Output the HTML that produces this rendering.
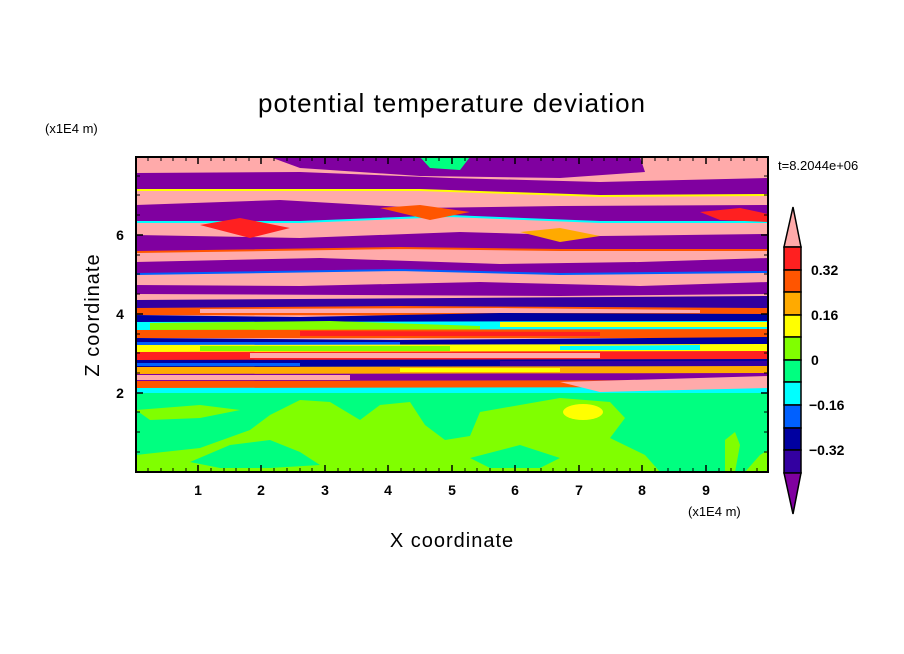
<!DOCTYPE html>
<html><head><meta charset="utf-8"><style>
html,body{margin:0;padding:0;background:#fff;width:904px;height:654px;overflow:hidden}
svg{display:block}
text{font-family:"Liberation Sans",sans-serif;fill:#000}
</style></head><body>
<svg width="904" height="654" viewBox="0 0 904 654" xmlns="http://www.w3.org/2000/svg">
<defs><clipPath id="c"><rect x="136" y="157" width="632" height="315"/></clipPath></defs>
<g clip-path="url(#c)">
<rect x="136" y="157" width="632" height="315" fill="#ffaaaa"/>
<path d="M270,157 L640,157 L645,172 L560,178 L420,176 L300,168Z" fill="#8000a0"/>
<path d="M420,157 L470,157 L460,170 L430,168Z" fill="#00ff80"/>
<path d="M136,173 L300,172 L450,178 L600,182 L768,178 L768,195 L600,196 L420,190 L300,190 L136,190Z" fill="#8000a0"/>
<path d="M136,205 L280,200 L420,208 L560,206 L768,205 L768,222 L600,222 L450,216 L300,222 L136,222Z" fill="#8000a0"/>
<path d="M136,235 L300,238 L460,232 L600,236 L768,234 L768,250 L560,250 L400,248 L136,252Z" fill="#8000a0"/>
<path d="M136,262 L320,258 L500,264 L640,262 L768,258 L768,272 L560,274 L400,270 L136,274Z" fill="#8000a0"/>
<path d="M136,285 L300,286 L480,282 L640,286 L768,282 L768,294 L560,296 L136,294Z" fill="#8000a0"/>
<g fill="none" stroke-width="2">
<path d="M136,190 L300,190 L420,190 L600,196 L768,195" stroke="#ffff00"/>
<path d="M136,222 L300,222 L450,216 L600,222 L768,222" stroke="#00ffff"/>
<path d="M136,252 L400,248 L560,250 L768,250" stroke="#ff5500"/>
<path d="M136,274 L400,270 L560,274 L768,272" stroke="#0060ff"/>
</g>
<path d="M200,225 L240,218 L290,228 L250,238Z" fill="#ff2020"/>
<path d="M380,208 L420,205 L470,212 L430,220Z" fill="#ff5500"/>
<path d="M520,232 L560,228 L600,236 L560,242Z" fill="#ffaa00"/>
<path d="M700,212 L740,208 L768,214 L768,222 L720,220Z" fill="#ff2020"/>
<path d="M136,300 L768,296 L768,308 L136,308Z" fill="#3300a0"/>
<path d="M136,308 L400,306 L768,308 L768,316 L136,315Z" fill="#ff5500"/>
<path d="M200,309 L500,308 L700,310 L700,313 L200,313Z" fill="#ffaaaa"/>
<path d="M136,315 L300,317 L500,313 L768,314 L768,322 L136,322Z" fill="#0000a0"/>
<path d="M136,322 L768,321 L768,330 L136,330Z" fill="#00ffff"/>
<path d="M150,323 L330,321 L480,326 L480,330 L150,330Z" fill="#80ff00"/>
<path d="M500,322 L768,322 L768,327 L500,327Z" fill="#ffff00"/>
<path d="M136,330 L768,329 L768,338 L136,338Z" fill="#ff5500"/>
<path d="M300,331 L600,332 L600,336 L300,336Z" fill="#ff2020"/>
<path d="M136,338 L400,340 L768,337 L768,345 L136,345Z" fill="#0000a0"/>
<path d="M136,342 L400,342 L400,345 L136,345Z" fill="#0060ff"/>
<path d="M136,345 L768,344 L768,352 L136,352Z" fill="#ffff00"/>
<path d="M200,346 L450,346 L450,351 L200,351Z" fill="#80ff00"/>
<path d="M560,346 L700,345 L700,350 L560,350Z" fill="#00ffff"/>
<path d="M136,352 L768,351 L768,360 L136,360Z" fill="#ff2020"/>
<path d="M250,353 L600,353 L600,358 L250,358Z" fill="#ffaaaa"/>
<path d="M136,360 L768,359 L768,367 L136,367Z" fill="#0000a0"/>
<path d="M500,361 L768,361 L768,366 L500,366Z" fill="#3300a0"/>
<path d="M136,363 L300,363 L300,366 L136,366Z" fill="#0060ff"/>
<path d="M136,367 L768,366 L768,374 L136,374Z" fill="#ffaa00"/>
<path d="M400,368 L560,368 L560,372 L400,372Z" fill="#ffff00"/>
<path d="M136,374 L768,373 L768,381 L136,381Z" fill="#8000a0"/>
<path d="M136,375 L350,375 L350,380 L136,380Z" fill="#ffaaaa"/>
<path d="M136,381 L768,380 L768,388 L136,388Z" fill="#ff5500"/>
<path d="M136,388 L768,387 L768,393 L136,393Z" fill="#00ffff"/>
<path d="M560,382 L768,376 L768,388 L600,392Z" fill="#ffaaaa"/>
<rect x="136" y="393" width="632" height="79" fill="#00ff80"/>
<path d="M136,472 L136,455 L200,448 L250,430 L270,415 L300,400 L330,402 L360,420 L380,405 L410,402 L425,425 L445,440 L470,436 L480,412 L520,405 L560,398 L610,402 L625,418 L610,438 L645,455 L660,472Z" fill="#80ff00"/>
<path d="M136,410 L200,405 L240,410 L200,418 L150,420Z" fill="#80ff00"/>
<path d="M190,462 L230,445 L270,440 L300,452 L320,465 L270,468 L220,468Z" fill="#00ff80"/>
<path d="M470,458 L520,445 L560,458 L540,468 L490,468Z" fill="#00ff80"/>
<ellipse cx="583" cy="412" rx="20" ry="8" fill="#ffff00"/>
<path d="M725,440 L735,432 L740,445 L735,472 L725,472Z" fill="#80ff00"/>
<path d="M745,472 L760,455 L768,450 L768,472Z" fill="#80ff00"/>
</g>
<rect x="136" y="157" width="632" height="315" fill="none" stroke="#000" stroke-width="2"/>
<g stroke="#000" stroke-width="1.5">
<path d="M198,472v-7M261,472v-7M325,472v-7M388,472v-7M452,472v-7M515,472v-7M579,472v-7M642,472v-7M706,472v-7M198,157v7M261,157v7M325,157v7M388,157v7M452,157v7M515,157v7M579,157v7M642,157v7M706,157v7"/>
<path d="M136,393h7M136,314h7M136,235h7M768,393h-7M768,314h-7M768,235h-7"/>
</g>
<g stroke="#000" stroke-width="1">
<path d="M148,472v-4M161,472v-4M173,472v-4M186,472v-4M211,472v-4M224,472v-4M236,472v-4M249,472v-4M274,472v-4M287,472v-4M300,472v-4M312,472v-4M338,472v-4M350,472v-4M363,472v-4M376,472v-4M401,472v-4M414,472v-4M426,472v-4M439,472v-4M465,472v-4M477,472v-4M490,472v-4M503,472v-4M528,472v-4M541,472v-4M553,472v-4M566,472v-4M592,472v-4M604,472v-4M617,472v-4M630,472v-4M655,472v-4M668,472v-4M680,472v-4M693,472v-4M719,472v-4M731,472v-4M744,472v-4M757,472v-4"/>
<path d="M148,157v4M161,157v4M173,157v4M186,157v4M211,157v4M224,157v4M236,157v4M249,157v4M274,157v4M287,157v4M300,157v4M312,157v4M338,157v4M350,157v4M363,157v4M376,157v4M401,157v4M414,157v4M426,157v4M439,157v4M465,157v4M477,157v4M490,157v4M503,157v4M528,157v4M541,157v4M553,157v4M566,157v4M592,157v4M604,157v4M617,157v4M630,157v4M655,157v4M668,157v4M680,157v4M693,157v4M719,157v4M731,157v4M744,157v4M757,157v4"/>
<path d="M136,452h4M136,432h4M136,412h4M136,373h4M136,353h4M136,334h4M136,294h4M136,274h4M136,255h4M136,215h4M136,195h4M136,176h4M768,452h-4M768,432h-4M768,412h-4M768,373h-4M768,353h-4M768,334h-4M768,294h-4M768,274h-4M768,255h-4M768,215h-4M768,195h-4M768,176h-4"/>
</g>
<g font-size="14" font-weight="bold" text-anchor="middle">
<text x="198" y="495">1</text><text x="261" y="495">2</text><text x="325" y="495">3</text><text x="388" y="495">4</text><text x="452" y="495">5</text><text x="515" y="495">6</text><text x="579" y="495">7</text><text x="642" y="495">8</text><text x="706" y="495">9</text>
<text x="120" y="398">2</text><text x="120" y="319">4</text><text x="120" y="240">6</text>
</g>
<text x="452" y="112" font-size="26" text-anchor="middle" letter-spacing="1">potential temperature deviation</text>
<text x="45" y="133" font-size="13">(x1E4 m)</text>
<text x="688" y="516" font-size="13">(x1E4 m)</text>
<text x="778" y="170" font-size="13">t=8.2044e+06</text>
<text x="452" y="547" font-size="20" text-anchor="middle" letter-spacing="1">X coordinate</text>
<text transform="translate(99,315) rotate(-90)" font-size="20" text-anchor="middle" letter-spacing="1">Z coordinate</text>
<g stroke="#000" stroke-width="1.5">
<path d="M793,207 L801,247 L784,247Z" fill="#ffaaaa"/>
<rect x="784" y="247" width="17" height="23" fill="#ff2020"/>
<rect x="784" y="270" width="17" height="22" fill="#ff5500"/>
<rect x="784" y="292" width="17" height="23" fill="#ffaa00"/>
<rect x="784" y="315" width="17" height="22" fill="#ffff00"/>
<rect x="784" y="337" width="17" height="23" fill="#80ff00"/>
<rect x="784" y="360" width="17" height="22" fill="#00ff80"/>
<rect x="784" y="382" width="17" height="23" fill="#00ffff"/>
<rect x="784" y="405" width="17" height="23" fill="#0060ff"/>
<rect x="784" y="428" width="17" height="22" fill="#0000a0"/>
<rect x="784" y="450" width="17" height="23" fill="#3300a0"/>
<path d="M784,473 L801,473 L793,514Z" fill="#8000a0"/>
</g>
<g font-size="14" font-weight="bold">
<text x="811" y="275">0.32</text><text x="811" y="320">0.16</text><text x="811" y="365">0</text><text x="809" y="410">−0.16</text><text x="809" y="455">−0.32</text>
</g>
</svg>
</body></html>
